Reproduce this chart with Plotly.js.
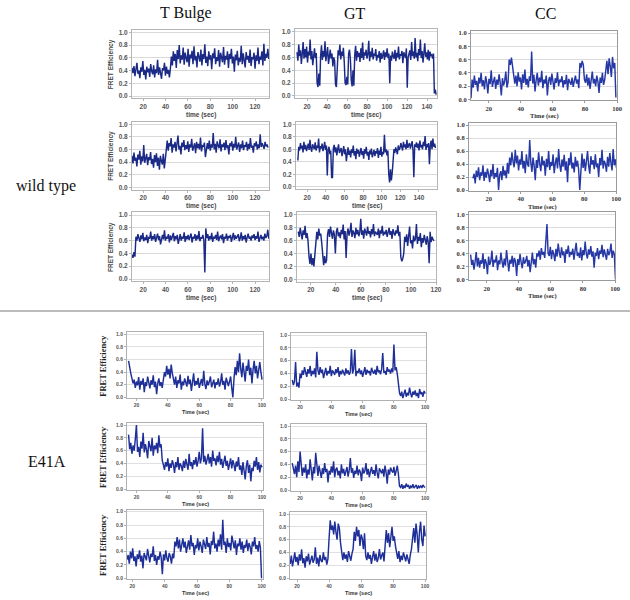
<!DOCTYPE html>
<html>
<head>
<meta charset="utf-8">
<script src="https://cdn.plot.ly/plotly-3.0.1.min.js"></script>
<style>html,body{margin:0;padding:0;background:#fff;}#chart{width:630px;height:600px;}</style>
</head>
<body>
<div id="chart"></div>
<script>
// ---------- DATA (FRET efficiency traces) ----------
// time arrays: [start (sec), step (sec)]
const wtTBulge1Time = [10, 0.88];
const wtTBulge1 = [.44,.36,.47,.31,.42,.52,.35,.40,.28,.45,.38,.55,.33,.41,.26,.46,.37,.43,.30,.50,.39,.34,.48,.29,.42,.36,.57,.33,.45,.38,.27,.44,.40,.52,.32,.46,.35,.41,.29,.43,
.62,.48,.70,.55,.66,.44,.72,.58,.80,.51,.64,.57,.76,.49,.68,.60,.53,.74,.46,.65,
.59,.71,.50,.78,.56,.63,.45,.69,.61,.54,.73,.48,.66,.58,.81,.52,.62,.47,.70,.57,
.64,.42,.67,.59,.75,.50,.61,.55,.72,.46,.68,.60,.53,.77,.49,.63,.57,.70,.44,.66,
.58,.74,.51,.62,.38,.65,.56,.71,.48,.60,.54,.79,.50,.67,.59,.45,.69,.57,.63,.52,
.73,.47,.61,.58,.68,.43,.64,.55,.76,.50,.62,.57,.70,.48,.82,.55,.66,.60,.74,.58];

const wtTBulge2Time = [10, 0.875];
const wtTBulge2 = [.50,.38,.55,.42,.47,.33,.52,.44,.58,.36,.49,.41,.67,.39,.46,.53,.35,.48,.43,.56,.37,.45,.31,.51,.40,.54,.34,.47,.28,.50,.42,.36,.53,.30,.44,
.62,.74,.58,.70,.65,.78,.55,.68,.63,.72,.57,.69,.82,.60,.66,.52,.71,.64,.75,.59,
.67,.61,.73,.56,.68,.63,.77,.58,.66,.70,.54,.72,.62,.69,.60,.79,.57,.67,.64,.71,
.48,.65,.70,.61,.74,.58,.68,.63,.86,.60,.69,.55,.73,.66,.62,.76,.57,.68,.64,.71,
.59,.75,.62,.67,.52,.70,.65,.73,.58,.69,.63,.80,.60,.66,.71,.56,.68,.62,.74,.59,
.67,.64,.72,.58,.69,.61,.78,.63,.66,.55,.70,.65,.73,.60,.68,.62,.84,.64,.70,.66,
.61,.72,.65,.68,.63];

const wtTBulge3Time = [10, 0.88];
const wtTBulge3 = [.38,.33,.42,.35,
.66,.60,.70,.63,.58,.68,.62,.72,.59,.65,
.61,.69,.56,.66,.63,.74,.60,.67,.62,.70,
.58,.65,.71,.61,.67,.54,.64,.69,.62,.76,
.60,.66,.63,.70,.57,.68,.61,.65,.72,.59,
.67,.62,.69,.55,.64,.70,.60,.66,.63,.73,
.58,.67,.62,.69,.61,.65,.71,.57,.66,.63,
.70,.60,.68,.62,.75,.59,.65,.63,.69,.61,
.10,.79,.64,.70,.60,.67,.62,.72,.58,.66,
.63,.69,.61,.74,.59,.65,.68,.62,.70,.56,
.66,.63,.71,.60,.67,.64,.69,.58,.65,.72,
.61,.68,.63,.66,.70,.59,.64,.73,.60,.67,
.62,.69,.57,.65,.71,.63,.66,.60,.68,.64,
.70,.61,.67,.63,.74,.58,.65,.69,.62,.66,
.60,.71,.64,.67,.77,.63];

const wtGT1Time = [10, 0.875];
const wtGT1 = [.68,.55,.80,.62,.71,.50,.66,.84,.58,.73,
.60,.77,.52,.69,.63,.88,.57,.70,.48,.65,
.74,.59,.67,.20,.14,.35,.16,.62,.79,.56,
.70,.61,.85,.54,.68,.76,.50,.64,.72,.58,
.66,.46,.60,.55,.18,.14,.58,.71,.63,.80,
.57,.69,.62,.75,.53,.20,.17,.30,.18,.66,
.72,.58,.25,.15,.40,.16,.64,.78,.55,.70,
.61,.67,.53,.74,.59,.83,.56,.68,.63,.72,
.58,.65,.86,.54,.69,.61,.75,.57,.66,.62,
.73,.55,.64,.60,.70,.52,.67,.58,.63,.71,
.56,.68,.61,.74,.59,.66,.20,.63,.55,.69,
.62,.58,.72,.54,.67,.60,.77,.57,.65,.63,
.70,.51,.68,.62,.59,.74,.13,.60,.66,.71,
.56,.84,.62,.69,.58,.90,.60,.67,.54,.73,
.63,.88,.59,.70,.52,.66,.82,.61,.68,.57,
.72,.55,.69,.63,.64,.58,.66,.04,.10,.02];

const wtGT2Time = [10, 0.93];
const wtGT2 = [.42,.64,.58,.70,.61,.66,.55,.72,.60,.67,
.57,.63,.69,.59,.75,.62,.56,.68,.64,.60,
.71,.58,.66,.62,.77,.55,.65,.61,.69,.57,
.63,.72,.59,.66,.18,.60,.64,.52,.58,.15,
.14,.62,.67,.55,.63,.50,.60,.68,.54,.58,
.62,.49,.57,.65,.52,.60,.41,.56,.63,.51,
.58,.47,.60,.54,.66,.50,.57,.44,.61,.53,
.59,.48,.55,.62,.51,.57,.45,.60,.53,.64,
.50,.56,.43,.58,.52,.61,.47,.55,.59,.49,
.57,.53,.62,.46,.58,.51,.64,.48,.56,.52,
.83,.55,.60,.50,.58,.20,.07,.28,.10,.22,
.45,.60,.54,.63,.58,.52,.66,.59,.62,.70,
.64,.58,.72,.63,.68,.60,.75,.62,.67,.70,
.61,.66,.73,.59,.15,.68,.64,.71,.62,.69,
.58,.74,.63,.67,.60,.72,.65,.81,.59,.68,
.63,.70,.36,.66,.74,.60,.77,.64,.69,.62];

const wtGT3Time = [10, 0.78];
const wtGT3 = [.74,.66,.80,.70,.62,.76,.69,.83,.64,.72,
.60,.35,.24,.40,.22,.33,.20,.38,.66,.74,
.62,.79,.68,.71,.57,.32,.22,.36,.25,.30,
.70,.78,.66,.82,.72,.63,.76,.69,.40,.74,
.80,.67,.73,.64,.77,.70,.85,.62,.75,.33,
.71,.79,.68,.74,.88,.66,.76,.72,.64,.80,
.70,.77,.67,.73,.94,.69,.76,.63,.79,.72,
.68,.82,.71,.75,.65,.78,.70,.86,.67,.74,
.72,.69,.79,.64,.76,.71,.83,.68,.74,.70,
.77,.66,.73,.80,.69,.75,.63,.78,.72,.68,
.76,.71,.84,.67,.74,.35,.28,.32,.40,.66,
.58,.70,.52,.64,.82,.56,.61,.48,.68,.59,
.63,.86,.55,.66,.60,.72,.50,.64,.57,.69,
.61,.54,.67,.59,.25,.74,.58,.66,.62,.60];

const wtCC1Time = [9, 0.7];
const wtCC1 = [.02,.30,.18,.36,.22,.28,.12,.33,.24,.40,
.20,.29,.15,.35,.26,.09,.31,.23,.44,.19,
.27,.34,.16,.30,.22,.38,.25,.06,.32,.21,
.28,.42,.18,.26,.60,.52,.63,.48,.30,.24,
.36,.20,.41,.27,.33,.15,.38,.25,.45,.22,
.31,.18,.35,.28,.72,.24,.37,.12,.29,.40,
.21,.33,.26,.43,.17,.30,.24,.36,.06,.28,
.34,.22,.39,.27,.15,.32,.25,.41,.20,.30,
.26,.35,.18,.29,.23,.37,.14,.31,.27,.22,
.33,.19,.28,.36,.24,.30,.17,.55,.48,.58,
.52,.30,.25,.38,.21,.33,.16,.29,.42,.24,
.31,.20,.36,.27,.10,.33,.25,.40,.22,.29,
.45,.58,.38,.62,.50,.34,.64,.47,.55,.03];

const wtCC2Time = [10, 0.7];
const wtCC2 = [.18,.25,.10,.30,.20,.35,.15,.27,.22,.38,
.14,.28,.19,.33,.24,.12,.31,.21,.40,.17,
.26,.20,.34,.00,.23,.29,.15,.37,.22,.30,
.18,.42,.25,.50,.38,.58,.44,.35,.62,.41,
.53,.30,.47,.39,.60,.33,.45,.26,.55,.40,
.36,.77,.42,.28,.50,.37,.15,.46,.34,.58,
.40,.29,.52,.38,.45,.22,.48,.35,.60,.31,
.43,.37,.55,.26,.41,.50,.33,.63,.39,.28,
.47,.36,.54,.30,.44,.12,.49,.38,.58,.33,
.42,.27,.51,.36,.45,.31,.00,.40,.56,.34,
.48,.29,.43,.60,.37,.25,.52,.39,.46,.32,
.55,.35,.41,.20,.49,.38,.62,.33,.45,.40,
.28,.51,.36,.57,.42,.30,.63,.38,.47,.34];

const wtCC3Time = [10, 0.7];
const wtCC3 = [.38,.22,.30,.15,.27,.42,.20,.33,.18,.29,
.24,.40,.16,.31,.25,.08,.35,.22,.28,.44,
.19,.30,.26,.37,.14,.29,.23,.41,.27,.18,
.32,.21,.45,.25,.12,.30,.24,.36,.19,.33,
.27,.05,.31,.22,.39,.26,.17,.34,.24,.28,
.36,.20,.30,.11,.27,.41,.23,.31,.18,.40,
.35,.44,.30,.48,.38,.42,.33,.72,.85,.40,
.36,.50,.31,.45,.39,.28,.47,.35,.55,.41,
.33,.49,.37,.43,.25,.46,.39,.52,.34,.42,
.38,.47,.30,.44,.56,.36,.41,.33,.49,.29,
.45,.37,.58,.40,.32,.46,.38,.51,.35,.43,
.18,.41,.36,.48,.31,.44,.39,.53,.34,.46,
.40,.30,.47,.37,.42,.55,.33,.44,.38,.00];

const e41aA1Time = [15, 0.715];
const e41aA1 = [.58,.45,.38,.30,.22,.28,.15,.25,.19,.32,
.12,.26,.20,.30,.08,.24,.18,.33,.22,.14,
.27,.20,.35,.16,.25,.05,.22,.30,.18,.24,
.15,.28,.40,.33,.50,.36,.45,.30,.52,.38,
.26,.20,.33,.15,.27,.22,.36,.12,.25,.19,
.30,.23,.17,.34,.21,.28,.10,.24,.38,.18,
.26,.20,.31,.15,.23,.29,.18,.42,.21,.13,
.27,.19,.25,.33,.16,.22,.28,.14,.24,.20,
.30,.17,.23,.38,.20,.26,.12,.31,.22,.18,
.25,.33,.15,.00,.30,.48,.35,.58,.40,.70,
.45,.32,.55,.38,.25,.50,.42,.60,.35,.47,
.22,.44,.58,.38,.50,.30,.46,.56,.40,.28];

const e41aA2Time = [15, 0.715];
const e41aA2 = [.85,.62,.72,.55,.68,.60,.78,1.0,.58,.66,
.50,.74,.63,.88,.57,.70,.61,.48,.75,.64,
.59,.80,.52,.68,.62,.72,.56,.84,.65,.70,
.45,.38,.30,.42,.35,.48,.28,.40,.33,.45,
.38,.25,.42,.34,.50,.30,.40,.36,.28,.44,
.33,.47,.39,.30,.55,.36,.42,.31,.45,.38,
.50,.35,.44,.58,.40,.48,.95,.42,.52,.38,
.46,.55,.40,.50,.35,.60,.44,.48,.37,.52,
.42,.58,.38,.47,.33,.45,.52,.36,.44,.30,
.40,.48,.32,.45,.38,.28,.43,.35,.50,.30,
.37,.22,.42,.30,.15,.36,.45,.25,.38,.12,
.33,.28,.44,.35,.50,.30,.42,.26,.38,.34];

const e41aA3Time = [16, 0.705];
const e41aA3 = [.38,.28,.35,.22,.40,.30,.45,.26,.33,.18,
.36,.29,.42,.25,.34,.15,.38,.31,.27,.44,
.30,.24,.37,.32,.48,.26,.35,.20,.33,.28,
.40,.31,.06,.36,.27,.42,.30,.25,.38,.33,
.22,.37,.30,.55,.48,.62,.45,.58,.40,.52,
.60,.46,.55,.38,.50,.57,.43,.65,.48,.53,
.35,.50,.45,.60,.42,.55,.48,.38,.58,.50,
.44,.62,.47,.53,.36,.56,.50,.70,.45,.52,
.40,.58,.48,.66,.43,.88,.50,.55,.38,.60,
.47,.53,.42,.64,.50,.45,.57,.35,.52,.48,
.60,.43,.55,.38,.50,.46,.58,.41,.53,.47,
.36,.55,.48,.62,.44,.50,.40,.56,.46,.00];

const e41aB1Time = [15, 0.715];
const e41aB1 = [.30,.22,.28,.58,.20,.26,.18,.40,.33,.45,
.38,.50,.42,.35,.47,.40,.52,.36,.44,.39,
.48,.34,.74,.45,.38,.50,.41,.46,.33,.43,
.49,.37,.44,.40,.52,.36,.45,.42,.38,.47,
.41,.50,.35,.44,.39,.46,.42,.37,.48,.40,
.45,.38,.43,.78,.40,.47,.77,.36,.44,.41,
.48,.39,.45,.35,.42,.50,.38,.46,.41,.44,
.37,.49,.43,.40,.46,.38,.52,.42,.45,.39,
.47,.72,.41,.44,.38,.50,.43,.46,.40,.48,
.42,.85,.45,.50,.40,.18,.10,.05,.12,.02,
.08,.15,.04,.10,.06,.18,.09,.03,.12,.07,
.14,.05,.10,.02,.16,.08,.11,.04,.13,.09];

const e41aB2Time = [15, 0.715];
const e41aB2 = [.42,.30,.25,.38,.20,.45,.28,.60,.33,.22,
.35,.27,.40,.18,.32,.24,.48,.30,.15,.36,
.26,.58,.31,.22,.38,.29,.19,.34,.25,.42,
.28,.33,.12,.30,.24,.37,.27,.45,.20,.32,
.35,.23,.30,.18,.40,.26,.33,.22,.29,.36,
.21,.31,.50,.27,.34,.19,.30,.25,.38,.23,
.32,.28,.14,.35,.26,.30,.42,.24,.33,.20,
.29,.36,.25,.31,.22,.40,.27,.18,.34,.30,
.26,.33,.21,.38,.28,.10,.32,.24,.35,.30,
.27,.36,.22,.30,.38,.25,.06,.04,.09,.02,
.07,.03,.10,.05,.08,.02,.06,.04,.09,.03,
.05,.08,.02,.06,.04,.07,.03,.08,.05,.04];

const e41aB3Time = [15, 0.715];
const e41aB3 = [.30,.22,.35,.18,.28,.40,.25,.33,.20,.37,
.27,.45,.23,.31,.16,.34,.26,.38,.21,.30,
.35,.24,.29,.48,.22,.32,.18,.36,.27,.25,
.40,.28,.33,.21,.30,.62,.90,.75,.82,.68,
.88,.72,.60,.85,.78,.55,.35,.28,.40,.30,
.37,.25,.42,.32,.27,.38,.45,.72,.58,.80,
.65,.75,.50,.68,.62,.45,.70,.35,.28,.40,
.30,.36,.22,.33,.42,.27,.38,.25,.31,.45,
.29,.35,.40,.26,.62,.75,.55,.70,.48,.68,
.80,.58,.65,.50,.38,.30,.42,.25,.35,.28,
.40,.32,.26,.37,.30,.22,.36,.45,.62,.78,
.55,.85,.68,.40,.72,.88,.60,.50,.82,.65];

// ---------- LAYOUT SPECS (positions in px: left, right, y of 1.0, y of 0.0) ----------
const W = 630, H = 600;
const panels = [
  {y: wtTBulge1, t: wtTBulge1Time, box: [132, 269, 32.3, 96],   xr: [10, 132.5], s: 'wt', yt: 'FRET Efficiency', xt: 'time (sec)'},
  {y: wtTBulge2, t: wtTBulge2Time, box: [132, 269, 124.3, 187.3], xr: [10, 132.5], s: 'wt', yt: 'FRET Efficiency', xt: 'time (sec)'},
  {y: wtTBulge3, t: wtTBulge3Time, box: [132, 269, 215, 279],   xr: [10, 132.5], s: 'wt', yt: 'FRET Efficiency', xt: 'time (sec)'},
  {y: wtGT1, t: wtGT1Time, box: [295, 437, 31.7, 96],    xr: [8, 150],   s: 'wt', xt: 'time (sec)'},
  {y: wtGT2, t: wtGT2Time, box: [296, 437, 124.3, 186.7], xr: [8, 159.5], s: 'wt', xt: 'time (sec)'},
  {y: wtGT3, t: wtGT3Time, box: [297, 436, 215, 279.3],  xr: [9, 120],   s: 'wt', xt: 'time (sec)'},
  {y: wtCC1, t: wtCC1Time, box: [471, 617, 33, 99.5],    xr: [9, 100],   s: 'cc', xt: 'Time (sec)'},
  {y: wtCC2, t: wtCC2Time, box: [469, 616, 125, 190],    xr: [7.5, 100], s: 'cc', xt: 'Time (sec)'},
  {y: wtCC3, t: wtCC3Time, box: [469, 615, 214.3, 279.3], xr: [9, 100],  s: 'cc', xt: 'Time (sec)'},
  {y: e41aA1, t: e41aA1Time, box: [127, 263, 334.3, 397.3], xr: [14, 100.7], s: 'e', yt: 'FRET Efficiency', xt: 'Time (sec)'},
  {y: e41aA2, t: e41aA2Time, box: [127, 263, 425, 489],   xr: [14, 100.7], s: 'e', yt: 'FRET Efficiency', xt: 'Time (sec)'},
  {y: e41aA3, t: e41aA3Time, box: [127, 263, 511.7, 578.3], xr: [16.7, 100.8], s: 'e', yt: 'FRET Efficiency', xt: 'Time (sec)'},
  {y: e41aB1, t: e41aB1Time, box: [291, 426, 335, 399.3], xr: [14.2, 100.6], s: 'e', xt: 'Time (sec)'},
  {y: e41aB2, t: e41aB2Time, box: [291, 426, 426, 490],   xr: [14.2, 100.6], s: 'e', xt: 'Time (sec)'},
  {y: e41aB3, t: e41aB3Time, box: [290, 426, 514, 578],   xr: [15.6, 100.6], s: 'e', xt: 'Time (sec)'}
];

const styles = {
  wt: {line: '#1b2a86', yr: [-0.035, 1.04], font: {family: 'Liberation Sans, Arial, sans-serif', size: 6.5, color: '#555', weight: 'bold'},
       frame: '#b5b5b5', grid: '#d9d9d9', tOff: 19,
       ttl: {family: 'Liberation Sans, Arial, sans-serif', size: 6.5, color: '#444', weight: 'bold'},
       ytl: {family: 'Liberation Sans, Arial, sans-serif', size: 6.5, color: '#444', weight: 'bold'}},
  cc: {line: '#2638a6', yr: [-0.01, 1.03], font: {family: 'Liberation Serif, Times New Roman, serif', size: 6.5, color: '#333', weight: 'bold'},
       frame: '#9a9a9a', grid: '#dcdcdc', tOff: 17,
       ttl: {family: 'Liberation Serif, Times New Roman, serif', size: 6.5, color: '#333', weight: 'bold'}},
  e:  {line: '#1f2f98', yr: [-0.01, 1.03], font: {family: 'Liberation Sans, Arial, sans-serif', size: 5, color: '#555', weight: 'bold'},
       frame: '#b0b0b0', grid: '#e0e0e0', tOff: 15,
       ttl: {family: 'Liberation Sans, Arial, sans-serif', size: 5.5, color: '#333', weight: 'bold'},
       ytl: {family: 'Liberation Serif, Times New Roman, serif', size: 8.5, color: '#222', weight: 'bold'}}
};

const traces = [];
const layout = {
  width: W, height: H, margin: {l: 0, r: 0, t: 0, b: 0},
  paper_bgcolor: '#fff', plot_bgcolor: '#fff', showlegend: false,
  annotations: [], shapes: []
};
const px = x => x / W, py = y => 1 - y / H;

panels.forEach((p, i) => {
  const st = styles[p.s];
  const n = i + 1;
  const sfx = n === 1 ? '' : String(n);
  const [L, R, p1, p0] = p.box;
  const u = p0 - p1;
  const top = p1 - (st.yr[1] - 1) * u, bot = p0 + (0 - st.yr[0]) * u;
  traces.push({
    type: 'scatter', mode: 'lines', y: p.y, x0: p.t[0], dx: p.t[1],
    xaxis: 'x' + sfx, yaxis: 'y' + sfx,
    line: {color: st.line, width: 1.45}, hoverinfo: 'skip'
  });
  layout['xaxis' + sfx] = {
    domain: [px(L), px(R)], range: p.xr, anchor: 'y' + sfx,
    showgrid: false, zeroline: false, showline: true, mirror: true, linecolor: st.frame, linewidth: 1,
    ticks: 'outside', ticklen: 2, tickcolor: st.frame, tick0: 0, dtick: 20,
    tickfont: st.font, fixedrange: true
  };
  layout['yaxis' + sfx] = {
    domain: [py(bot), py(top)], range: st.yr, anchor: 'x' + sfx,
    showgrid: true, gridcolor: st.grid, gridwidth: 1, zeroline: false,
    showline: true, mirror: true, linecolor: st.frame, linewidth: 1,
    ticks: 'outside', ticklen: 2, tickcolor: st.frame, tick0: 0, dtick: 0.2, tickformat: '.1f',
    tickfont: st.font, fixedrange: true
  };
  layout.annotations.push({xref: 'paper', yref: 'paper', x: px((L + R) / 2), y: py(p0 + st.tOff), text: p.xt,
    showarrow: false, font: st.ttl, xanchor: 'center', yanchor: 'middle'});
  if (p.yt) {
    const yx = p.s === 'e' ? 103 : 111;
    layout.annotations.push({xref: 'paper', yref: 'paper', x: px(yx), y: py((p1 + p0) / 2), text: p.yt,
      showarrow: false, textangle: -90, font: st.ytl, xanchor: 'center', yanchor: 'middle'});
  }
});

const serifBig = {family: 'Liberation Serif, Times New Roman, serif', size: 16, color: '#111'};
[['T Bulge', 186, 13], ['GT', 355, 13], ['CC', 545, 13], ['wild type', 46, 186], ['E41A', 47, 461]].forEach(a => {
  layout.annotations.push({xref: 'paper', yref: 'paper', x: px(a[1]), y: py(a[2]), text: a[0],
    showarrow: false, font: serifBig, xanchor: 'center', yanchor: 'middle'});
});
layout.shapes.push({type: 'line', xref: 'paper', yref: 'paper', x0: 0, x1: 1, y0: py(311), y1: py(311),
  line: {color: '#7a7a7a', width: 1}});

Plotly.newPlot('chart', traces, layout, {displayModeBar: false, staticPlot: true});
</script>
</body>
</html>
